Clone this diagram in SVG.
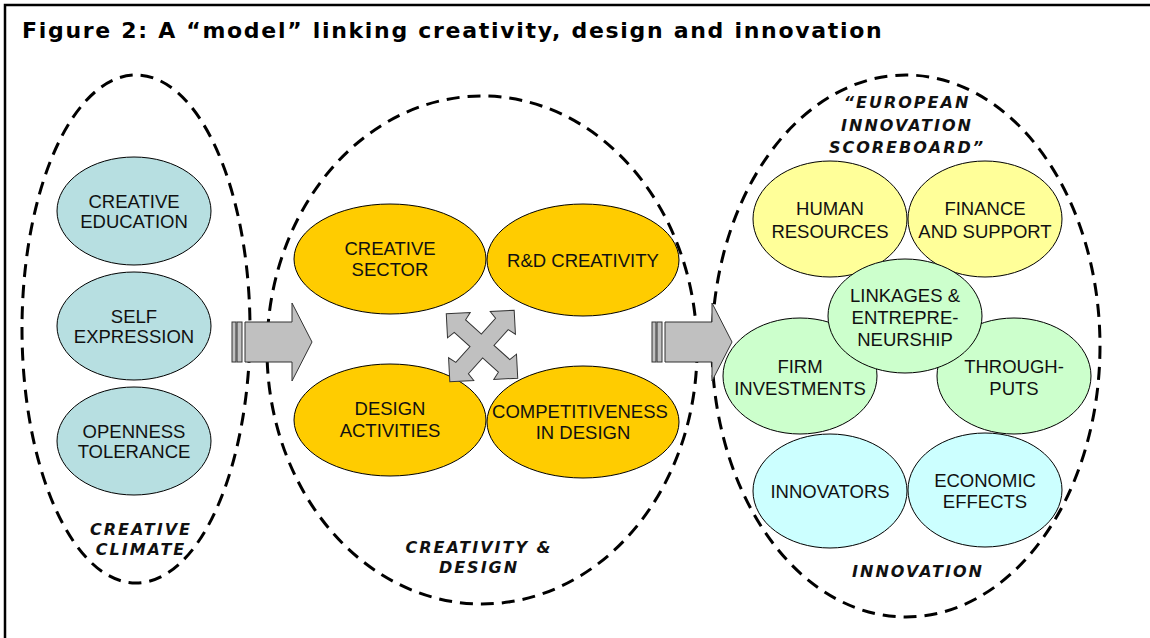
<svg xmlns="http://www.w3.org/2000/svg" width="1150" height="638" viewBox="0 0 1150 638">
<style>
.frame{fill:none;stroke:#000;stroke-width:2.5}
.title{font-family:"DejaVu Sans","Liberation Sans",sans-serif;font-weight:bold;font-size:22px;letter-spacing:1.7px;fill:#000}
.group{fill:none;stroke:#000;stroke-width:3;stroke-dasharray:13 8}
.node{stroke:#000;stroke-width:1}
.blue{fill:#b7dfe1}
.gold{fill:#ffcc00}
.yel{fill:#ffff99}
.grn{fill:#ccffcc}
.cyan{fill:#ccffff}
.t{font-family:"Liberation Sans",Arial,sans-serif;font-size:18.5px;fill:#111;text-anchor:middle}
.lbl{font-family:"DejaVu Sans","Liberation Sans",sans-serif;font-weight:bold;font-style:italic;font-size:16px;letter-spacing:2px;fill:#111;text-anchor:middle}
.arr{fill:#c0c0c0;stroke:#333;stroke-width:1}
</style>
<rect width="1150" height="638" fill="#fff"/>
<path class="frame" d="M5,638 V5 H1150"/>
<text class="title" x="22" y="38">Figure 2: A “model” linking creativity, design and innovation</text>

<g id="group-climate">
<ellipse class="group" cx="136" cy="329" rx="114" ry="254"/>
<text class="lbl" x="141" y="535">CREATIVE</text>
<text class="lbl" x="141" y="555">CLIMATE</text>
</g>
<g id="group-creativity">
<ellipse class="group" cx="482" cy="350" rx="215" ry="254"/>
<text class="lbl" x="479" y="553">CREATIVITY &amp;</text>
<text class="lbl" x="479" y="573">DESIGN</text>
</g>
<g id="group-innovation">
<ellipse class="group" cx="906" cy="346" rx="194" ry="271"/>
<text class="lbl" x="907" y="108">“EUROPEAN</text>
<text class="lbl" x="907" y="131">INNOVATION</text>
<text class="lbl" x="907" y="153">SCOREBOARD”</text>
<text class="lbl" x="918" y="577">INNOVATION</text>
</g>

<g id="creative-education">
<ellipse class="node blue" cx="134" cy="211" rx="77" ry="54"/>
<text class="t" x="134" y="208">CREATIVE</text>
<text class="t" x="134" y="228">EDUCATION</text>
</g>
<g id="self-expression">
<ellipse class="node blue" cx="134" cy="326" rx="77" ry="54"/>
<text class="t" x="134" y="323">SELF</text>
<text class="t" x="134" y="343">EXPRESSION</text>
</g>
<g id="openness-tolerance">
<ellipse class="node blue" cx="134" cy="441" rx="77" ry="54"/>
<text class="t" x="134" y="438">OPENNESS</text>
<text class="t" x="134" y="458">TOLERANCE</text>
</g>

<g id="creative-sector">
<ellipse class="node gold" cx="390" cy="259" rx="96" ry="55"/>
<text class="t" x="390" y="255">CREATIVE</text>
<text class="t" x="390" y="276">SECTOR</text>
</g>
<g id="rd-creativity">
<ellipse class="node gold" cx="583" cy="260" rx="96" ry="56"/>
<text class="t" x="583" y="267">R&amp;D CREATIVITY</text>
</g>
<g id="design-activities">
<ellipse class="node gold" cx="390" cy="420" rx="96" ry="56"/>
<text class="t" x="390" y="415">DESIGN</text>
<text class="t" x="390" y="437">ACTIVITIES</text>
</g>
<g id="competitiveness">
<ellipse class="node gold" cx="583" cy="422" rx="96" ry="56"/>
<text class="t" x="580" y="418">COMPETITIVENESS</text>
<text class="t" x="583" y="439">IN DESIGN</text>
</g>

<g id="human-resources">
<ellipse class="node yel" cx="830" cy="219" rx="77" ry="58"/>
<text class="t" x="830" y="215">HUMAN</text>
<text class="t" x="830" y="238">RESOURCES</text>
</g>
<g id="finance-support">
<ellipse class="node yel" cx="985" cy="219" rx="77" ry="58"/>
<text class="t" x="985" y="215">FINANCE</text>
<text class="t" x="985" y="238">AND SUPPORT</text>
</g>
<g id="firm-investments">
<ellipse class="node grn" cx="800" cy="376" rx="77" ry="58"/>
<text class="t" x="800" y="373">FIRM</text>
<text class="t" x="800" y="395">INVESTMENTS</text>
</g>
<g id="throughputs">
<ellipse class="node grn" cx="1014" cy="376" rx="77" ry="58"/>
<text class="t" x="1014" y="373">THROUGH-</text>
<text class="t" x="1014" y="395">PUTS</text>
</g>
<g id="linkages">
<ellipse class="node grn" cx="905" cy="316" rx="77" ry="57"/>
<text class="t" x="905" y="302">LINKAGES &amp;</text>
<text class="t" x="905" y="324">ENTREPRE-</text>
<text class="t" x="905" y="346">NEURSHIP</text>
</g>
<g id="innovators">
<ellipse class="node cyan" cx="830" cy="491" rx="77" ry="57"/>
<text class="t" x="830" y="498">INNOVATORS</text>
</g>
<g id="economic-effects">
<ellipse class="node cyan" cx="985" cy="490" rx="77" ry="57"/>
<text class="t" x="985" y="487">ECONOMIC</text>
<text class="t" x="985" y="508">EFFECTS</text>
</g>

<g id="connectors">
<g id="arrow-climate-creativity">
<rect class="arr" x="232" y="322" width="4" height="40"/>
<rect class="arr" x="237" y="322" width="5" height="40"/>
<polygon class="arr" points="245,322 292,322 292,303 312,342 292,381 292,362 245,362"/>
</g>
<g id="arrow-creativity-innovation">
<rect class="arr" x="652" y="322" width="4" height="40"/>
<rect class="arr" x="657" y="322" width="5" height="40"/>
<polygon class="arr" points="665,322 712,322 712,303 732,342 712,381 712,362 665,362"/>
</g>
<g id="four-way-arrow" transform="translate(482,346) rotate(-3)">
<polygon class="arr" points="-34,-34 -10,-34 -15,-27 0,-12 15,-27 10,-34 34,-34 34,-10 27,-15 12,0 27,15 34,10 34,34 10,34 15,27 0,12 -15,27 -10,34 -34,34 -34,10 -27,15 -12,0 -27,-15 -34,-10"/>
</g>
</g>
</svg>
